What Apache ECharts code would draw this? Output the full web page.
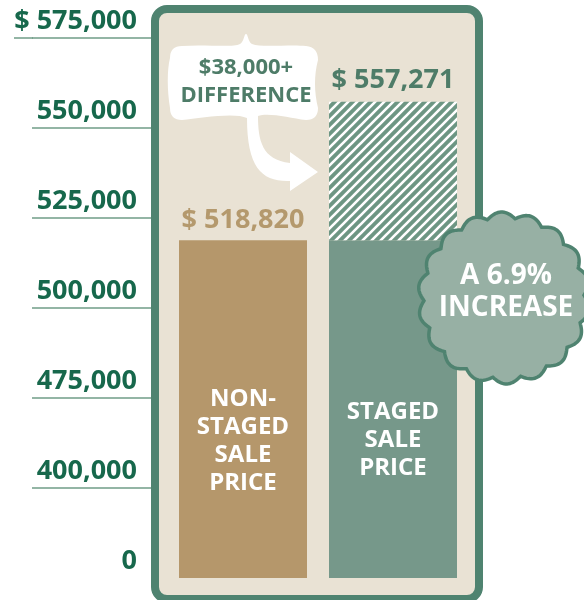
<!DOCTYPE html>
<html>
<head>
<meta charset="utf-8">
<script src="https://cdn.jsdelivr.net/npm/echarts@6/dist/echarts.min.js"></script>
<style>
  html, body { margin: 0; padding: 0; background: #ffffff; }
  #main { width: 584px; height: 600px; }
</style>
</head>
<body>
<div id="main"></div>
<script>
// 轴上的刻度（断轴：每个刻度间距相等）
const tickValues = [0, 400000, 475000, 500000, 525000, 550000, 575000];
const tickLabels = ['0', '400,000', '475,000', '500,000', '525,000', '550,000', '$ 575,000'];

// 数据
const categories = ['Non-staged sale price', 'Staged sale price'];
const barTitles = ['NON-\nSTAGED\nSALE\nPRICE', 'STAGED\nSALE\nPRICE'];
const salePrices = [518820, 557271];
const valueLabels = ['$ 518,820', '$ 557,271'];
const differenceText = ['$38,000+', 'DIFFERENCE'];
const increaseText = ['A 6.9%', 'INCREASE'];

const FONT = "'Open Sans', 'Noto Sans', sans-serif";
const GREEN_DARK = '#4f8370';

// 把真实价格换算到断轴上的位置（刻度之间线性）
function toAxis(v) {
    for (let i = 1; i < tickValues.length; i++) {
        if (v <= tickValues[i]) {
            return (i - 1) + (v - tickValues[i - 1]) / (tickValues[i] - tickValues[i - 1]);
        }
    }
    return tickValues.length - 1;
}

// 斜线填充
const S = 9;
const tile = document.createElement('canvas');
tile.width = tile.height = S;
const tctx = tile.getContext('2d');
tctx.fillStyle = '#6d9683';
tctx.fillRect(0, 0, S, S);
tctx.strokeStyle = '#ffffff';
tctx.lineWidth = 2.6;
tctx.beginPath();
tctx.moveTo(-2, 2); tctx.lineTo(2, -2);
tctx.moveTo(0, S); tctx.lineTo(S, 0);
tctx.moveTo(S - 2, S + 2); tctx.lineTo(S + 2, S - 2);
tctx.stroke();

// 徽章的波浪边
function badgePoints(cx, cy) {
    const pts = [];
    for (let i = 0; i < 360; i++) {
        const a = i / 360 * Math.PI * 2;
        const r = 80 + 6 * Math.abs(Math.sin(9 * a + 0.3));
        pts.push([cx + r * Math.cos(a), cy + r * Math.sin(a)]);
    }
    return pts;
}

// 白色气泡 + 箭头，画在一张小画布上
const bubblePath =
    'M182 46 C205 44 232 48 240 44 C244 42 244 34 246 34 C248 34 248 42 252 44 ' +
    'C262 48 290 44 306 46 Q318 47 318 60 C314 75 314 92 318 108 Q318 120 306 120 ' +
    'C290 118 268 112 258 116 C258 140 262 160 290 163 L290 152 L318 172 L290 191 L290 181 ' +
    'C262 182 247 168 247 118 C235 112 200 118 182 120 Q170 120 170 108 ' +
    'C167 90 167 70 170 58 Q170 46 182 46 Z';
const bubble = document.createElement('canvas');
bubble.width = 200; bubble.height = 200;
const bctx = bubble.getContext('2d');
bctx.translate(-150, -20);
bctx.fillStyle = '#ffffff';
bctx.fill(new Path2D(bubblePath));

const baseValues = salePrices.map(() => toAxis(salePrices[0]));
const diffValues = salePrices.map((p, i) => i === 0 ? 0 : toAxis(p) - toAxis(salePrices[0]));

const myChart = echarts.init(document.getElementById('main'));
myChart.setOption({
    animation: false,
    backgroundColor: '#ffffff',
    grid: [
        { left: 32, width: 120, top: 38, height: 540 },
        { left: 168, width: 300, top: 38, height: 540 }
    ],
    xAxis: [
        { gridIndex: 0, type: 'value', show: false },
        { gridIndex: 1, type: 'category', data: categories, show: false }
    ],
    yAxis: [
        {
            gridIndex: 0, type: 'value', min: 0, max: 6, interval: 1, position: 'right',
            axisLine: { show: false }, axisTick: { show: false },
            axisLabel: {
                inside: true, margin: 15, align: 'right', verticalAlign: 'bottom',
                padding: [0, 0, 3, 0],
                formatter: v => tickLabels[v],
                color: '#17684c', fontFamily: FONT, fontWeight: 'bold', fontSize: 27
            },
            splitLine: {
                show: true,
                lineStyle: { color: ['rgba(0,0,0,0)', '#6f9c87', '#6f9c87', '#6f9c87', '#6f9c87', '#6f9c87', '#6f9c87'], width: 1.5 }
            }
        },
        { gridIndex: 1, type: 'value', min: 0, max: 6, interval: 1, show: false }
    ],
    graphic: [
        {
            type: 'rect', z: 1, silent: true,
            shape: { x: 155, y: 9, width: 324, height: 590, r: 12 },
            style: { fill: '#e9e2d4', stroke: GREEN_DARK, lineWidth: 8 }
        },
        {
            type: 'line', z: 1, silent: true,
            shape: { x1: 14, y1: 38, x2: 33, y2: 38 },
            style: { stroke: '#6f9c87', lineWidth: 1.5 }
        },
        {
            type: 'image', z: 10, silent: true, x: 150, y: 20,
            style: { image: bubble, width: 200, height: 200 }
        },
        {
            type: 'text', z: 11, silent: true, x: 246, y: 82,
            style: {
                text: differenceText.join('\n'), align: 'center', verticalAlign: 'middle',
                fill: '#4e7c68', font: 'bold 22px ' + FONT, lineHeight: 28
            }
        },
        {
            type: 'polygon', z: 10, silent: true,
            shape: { points: badgePoints(504, 298) },
            style: { fill: '#97b0a4', stroke: GREEN_DARK, lineWidth: 3.5 }
        },
        {
            type: 'text', z: 11, silent: true, x: 506, y: 292,
            style: {
                text: increaseText.join('\n'), align: 'center', verticalAlign: 'middle',
                fill: '#ffffff', font: 'bold 28px ' + FONT, lineHeight: 32
            }
        }
    ],
    series: [
        {
            name: 'Sale price', type: 'bar', xAxisIndex: 1, yAxisIndex: 1, stack: 'price',
            barWidth: 128, z: 2,
            data: baseValues.map((v, i) => ({
                value: v,
                itemStyle: { color: i === 0 ? '#b5976b' : '#76988a' },
                label: { position: [64, i === 0 ? 145 : 158] }
            })),
            label: {
                show: true, align: 'center', verticalAlign: 'top',
                formatter: p => barTitles[p.dataIndex],
                color: '#ffffff', fontFamily: FONT, fontWeight: 'bold', fontSize: 24, lineHeight: 28
            }
        },
        {
            name: 'Difference', type: 'bar', xAxisIndex: 1, yAxisIndex: 1, stack: 'price',
            barWidth: 128, z: 2,
            data: diffValues.map((v, i) => ({
                value: v,
                label: { color: i === 0 ? '#b4996d' : '#4e7c68', distance: i === 0 ? 6 : 8 }
            })),
            itemStyle: { color: { image: tile, repeat: 'repeat' } },
            label: {
                show: true, position: 'top',
                formatter: p => valueLabels[p.dataIndex],
                fontFamily: FONT, fontWeight: 'bold', fontSize: 27
            }
        }
    ]
});
</script>
</body>
</html>
